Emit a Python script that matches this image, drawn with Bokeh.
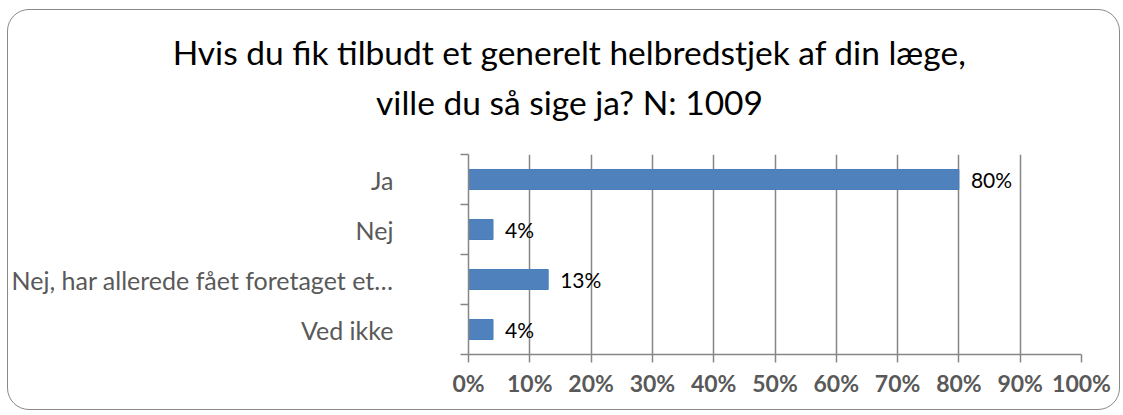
from bokeh.plotting import figure
from bokeh.layouts import column
from bokeh.models import Range1d, FixedTicker, ColumnDataSource, LabelSet
from bokeh.core.properties import value
from bokeh.embed import file_html
from bokeh.resources import INLINE

# ---- data ----
categories = ["Ja", "Nej", "Nej, har allerede fået foretaget et…", "Ved ikke"]
values = [0.80, 0.04, 0.13, 0.04]
value_labels = ["80%", "4%", "13%", "4%"]
x_ticks = [0.0, 0.1, 0.2, 0.3, 0.4, 0.5, 0.6, 0.7, 0.8, 0.9, 1.0]
x_tick_labels = ["0%", "10%", "20%", "30%", "40%", "50%", "60%", "70%", "80%", "90%", "100%"]
title_lines = ["Hvis du fik tilbudt et generelt helbredstjek af din læge,",
               "ville du så sige ja? N: 1009"]

n = len(categories)
ypos = [n - i - 0.5 for i in range(n)]

FONT = "Lato"
GRID = "#868686"

W, H = 1111, 399
HT = 120                      # height of the title strip
BL, BR, BT, BB = 0, 38, 144 - HT, 55

# ---- title strip ----
t = figure(width=W, height=HT, x_range=Range1d(0, W), y_range=Range1d(0, HT),
           title=None, output_backend="svg", toolbar_location=None,
           min_border=0, min_border_left=0, min_border_right=0,
           min_border_top=0, min_border_bottom=0)
t.frame_align = False
t.axis.visible = False
t.grid.visible = False
t.outline_line_color = None
t.border_fill_color = None
t.background_fill_color = None
tsrc = ColumnDataSource(dict(x=[561, 561], y=[HT - 41, HT - 91], text=title_lines))
t.text(x="x", y="y", text="text", source=tsrc, text_align="center", text_baseline="alphabetic",
       text_font=value(FONT), text_font_size=value("33.5px"), text_color="black")

# ---- chart ----
p = figure(width=W, height=H - HT, x_range=Range1d(0, 1), y_range=Range1d(0, n),
           output_backend="svg", toolbar_location=None,
           min_border_left=BL, min_border_right=BR, min_border_top=BT, min_border_bottom=BB)
p.frame_align = False
p.border_fill_color = None
p.background_fill_color = "white"
p.outline_line_color = None

src = ColumnDataSource(dict(y=ypos, v=values, lab=value_labels, cat=categories))
p.hbar(y="y", left=0, right="v", height=0.4, source=src,
       fill_color="#4F81BD", line_color="#4A7EBB", line_width=1)

p.add_layout(LabelSet(x="v", y="y", text="lab", source=src, x_offset=12,
                      text_baseline="middle", text_align="left",
                      text_font=value(FONT), text_font_size=value("21px"), text_color="black"))

# grid
p.ygrid.visible = False
p.xgrid.ticker = FixedTicker(ticks=x_ticks)
p.xgrid.grid_line_color = GRID
p.xgrid.grid_line_width = 1.5

# x axis
xa = p.xaxis[0]
xa.ticker = FixedTicker(ticks=x_ticks, minor_ticks=[])
xa.major_label_overrides = {tk: l for tk, l in zip(x_ticks, x_tick_labels)}
xa.axis_line_color = GRID
xa.axis_line_width = 1.5
xa.major_tick_line_color = GRID
xa.major_tick_line_width = 1.5
xa.major_tick_in = 0
xa.major_tick_out = 8
xa.minor_tick_line_color = None
xa.major_label_text_font = FONT
xa.major_label_text_font_style = "bold"
xa.major_label_text_font_size = "23px"
xa.major_label_text_color = "#595959"
xa.major_label_standoff = 6

# y axis: labels at category centres, tick marks at category boundaries
ya = p.yaxis[0]
ya.ticker = FixedTicker(ticks=ypos, minor_ticks=list(range(n + 1)))
ya.major_label_overrides = {y: c for y, c in zip(ypos, categories)}
ya.axis_line_color = GRID
ya.axis_line_width = 1.5
ya.major_tick_line_color = None
ya.major_tick_in = 0
ya.major_tick_out = 0
ya.minor_tick_line_color = GRID
ya.minor_tick_line_width = 1.5
ya.minor_tick_in = 0
ya.minor_tick_out = 8
ya.major_label_text_font = FONT
ya.major_label_text_font_size = "25px"
ya.major_label_text_color = "#595959"
ya.major_label_standoff = 67

layout = column(t, p, spacing=0)
layout.margin = (9, 0, 0, 7)
layout.styles = {"border": "1.5px solid #8a8a8a", "border-radius": "22px", "background": "white"}

open("out.html", "w").write(file_html(layout, INLINE))
